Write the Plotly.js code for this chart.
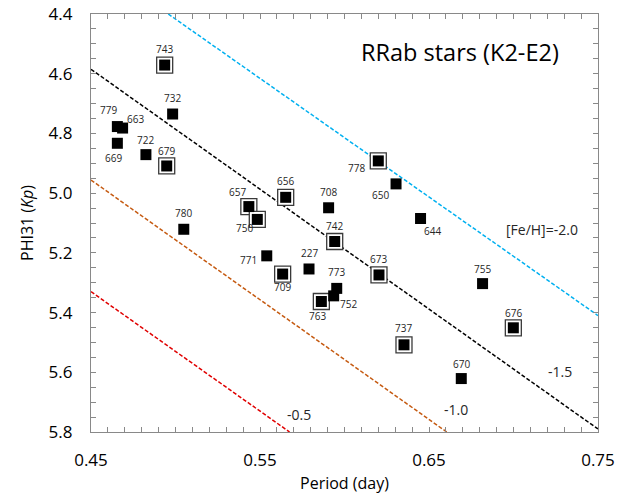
<!DOCTYPE html>
<html>
<head>
<meta charset="utf-8">
<script src="https://cdn.plot.ly/plotly-3.0.1.min.js"></script>
<style>html,body{margin:0;padding:0;background:#fff;}#chart{width:624px;height:497px;}</style>
</head>
<body>
<div id="chart"></div>
<script>
// ---- data ----
const starIds = ['743','732','779','663','669','722','679','780','657','750','656','708','742','771','227','709','773','752','763','778','650','644','673','737','670','755','676'];
const periods = [0.4936,0.4983,0.4656,0.4687,0.4656,0.4825,0.4948,0.5049,0.5434,0.5484,0.5652,0.5906,0.5942,0.5540,0.5790,0.5634,0.5954,0.5936,0.5863,0.6200,0.6305,0.6450,0.6204,0.6352,0.6691,0.6817,0.6999];
const phi31 = [4.571,4.735,4.777,4.782,4.833,4.871,4.909,5.121,5.045,5.088,5.014,5.049,5.162,5.210,5.254,5.271,5.319,5.344,5.363,4.892,4.969,5.085,5.274,5.508,5.621,5.303,5.451];
const boxedIds = ['743','679','657','750','656','742','709','763','778','673','737','676'];

const fehLabels = ['[Fe/H]=-2.0','-1.5','-1.0','-0.5'];
const lineX0 = [0.4957,0.45,0.45,0.45];
const lineY0 = [4.40,4.585,4.956,5.330];
const lineX1 = [0.75,0.75,0.6605,0.5675];
const lineY1 = [5.41,5.79,5.80,5.80];
const fehLabelX = [0.7169,0.7275,0.666,0.573];
const fehLabelY = [5.123,5.599,5.723,5.740];

const xTicks = [0.45,0.55,0.65,0.75];
const yTicks = [4.4,4.6,4.8,5.0,5.2,5.4,5.6,5.8];

// ---- styles (label offsets in px: label centre relative to marker) ----
const labelOffset = {
 '743':[0,-16],'732':[0,-16],'779':[-9,-17],'663':[13,-9],'669':[-4,15],'722':[0,-15],'679':[0,-15],
 '780':[0,-16],'657':[-11,-15],'750':[-13,9],'656':[0,-16],'708':[0,-16],'742':[0,-16],'771':[-18,4],
 '227':[0,-16],'709':[0,13],'773':[0,-16],'752':[15,8],'763':[-4,14],'778':[-22,7],'650':[-16,11],
 '644':[12,12],'673':[0,-16],'737':[0,-17],'670':[0,-15],'755':[0,-15],'676':[0,-15]
};
const lineColors = ['#00B0F0','#000000','#C55A11','#E00000'];
const FONT = 'Open Sans, sans-serif';

const traces = [];
for (let i = 0; i < fehLabels.length; i++) {
  traces.push({
    x: [lineX0[i], lineX1[i]], y: [lineY0[i], lineY1[i]],
    mode: 'lines', type: 'scatter', hoverinfo: 'skip',
    line: {color: lineColors[i], width: 1.5, dash: '4px,2px'}
  });
}
const bx = [], by = [];
starIds.forEach((id, i) => { if (boxedIds.includes(id)) { bx.push(periods[i]); by.push(phi31[i]); } });
traces.push({
  x: bx, y: by, mode: 'markers', type: 'scatter',
  marker: {symbol: 'square', size: 16, color: '#ffffff', line: {color: '#3a3a3a', width: 1.3}}
});
traces.push({
  x: periods, y: phi31, mode: 'markers', type: 'scatter',
  marker: {symbol: 'square', size: 11, color: '#000000', line: {width: 0}}
});

const annotations = [];
starIds.forEach((id, i) => {
  const off = labelOffset[id] || [0, -15];
  annotations.push({
    x: periods[i], y: phi31[i], text: id, showarrow: false,
    xshift: off[0], yshift: -off[1],
    font: {family: FONT, size: 10, color: '#262626'}
  });
});
for (let i = 0; i < fehLabels.length; i++) {
  annotations.push({
    x: fehLabelX[i], y: fehLabelY[i], text: fehLabels[i], showarrow: false,
    font: {family: FONT, size: 14, color: '#262626'}
  });
}
annotations.push({
  x: 0.6683, y: 4.527, text: 'RRab stars (K2-E2)', showarrow: false,
  font: {family: FONT, size: 23.5, color: '#000000'}
});

const axisCommon = {
  showgrid: false, zeroline: false, showline: true, linecolor: '#898989', linewidth: 1.2,
  mirror: 'ticks', ticks: 'inside', ticklen: 5, tickcolor: '#898989', tickwidth: 1,
  tickfont: {family: FONT, size: 17, color: '#000000'}
};
const layout = {
  width: 624, height: 497,
  margin: {l: 91, r: 26, t: 14, b: 65},
  paper_bgcolor: '#ffffff', plot_bgcolor: '#ffffff',
  showlegend: false,
  xaxis: Object.assign({}, axisCommon, {
    range: [0.45, 0.75], tickvals: xTicks, ticktext: xTicks.map(v => v.toFixed(2)),
    minor: {dtick: 0.01, tick0: 0.45, ticks: 'inside', ticklen: 5, tickcolor: '#898989'},
    ticklabelstandoff: 12,
    title: {text: 'Period (day)', font: {family: FONT, size: 16, color: '#000000'}, standoff: 8}
  }),
  yaxis: Object.assign({}, axisCommon, {
    range: [5.8, 4.4], tickvals: yTicks, ticktext: yTicks.map(v => v.toFixed(1)),
    minor: {dtick: 0.05, tick0: 4.4, ticks: 'inside', ticklen: 5, tickcolor: '#898989'},
    ticklabelstandoff: 14,
    title: {text: 'PHI31 (<i>Kp</i>)', font: {family: FONT, size: 16, color: '#000000'}, standoff: 10}
  }),
  annotations: annotations
};
Plotly.newPlot('chart', traces, layout, {staticPlot: true, displayModeBar: false});
</script>
</body>
</html>
